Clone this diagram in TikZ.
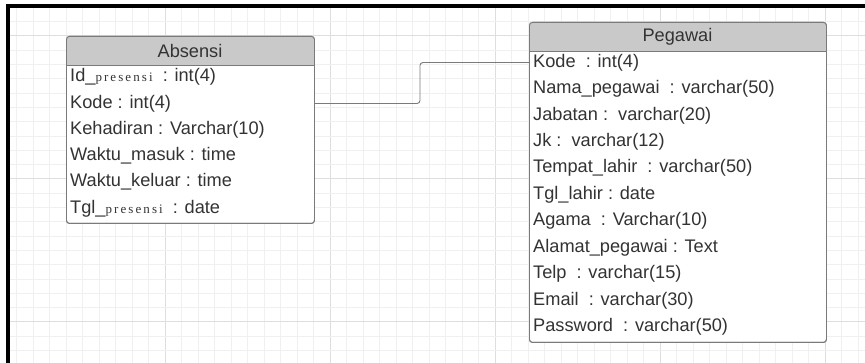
\documentclass[tikz,border=0pt]{standalone}
\usepackage{fontspec}
\setmainfont{Liberation Sans}
\newfontfamily\presfont[LetterSpace=16]{Liberation Serif}
\definecolor{gminor}{HTML}{F0F0F0}
\definecolor{gmajor}{HTML}{DEDEDE}
\definecolor{hdrgray}{HTML}{C9C9C9}
\definecolor{edgegray}{HTML}{7A7A7A}
\definecolor{txtgray}{HTML}{333333}
\newcommand{\pres}{{\presfont\fontsize{13}{15}\selectfont presensi}}
\tikzset{
  minorline/.style={gminor, line width=0.8pt},
  majorline/.style={gmajor, line width=1pt},
  tbl/.style={draw=edgegray, line width=0.9pt, rounded corners=3pt, inner sep=0pt},
  hdrfill/.style={fill=hdrgray},
  hdrtxt/.style={text=txtgray, font=\fontsize{18.2}{20}\selectfont, inner sep=0pt},
  rowtxt/.style={text=txtgray, font=\fontsize{18.2}{20}\selectfont, inner sep=0pt, anchor=west},
  conn/.style={draw=edgegray, line width=0.9pt, rounded corners=3pt},
  frame/.style={black, line width=4pt}
}
\begin{document}
\begin{tikzpicture}[x=1pt, y=-1pt]
\useasboundingbox (0,0) rectangle (865,363);
\fill[white] (0,0) rectangle (865,363);
% grid
\foreach \i in {1,...,52}{
  \pgfmathtruncatemacro{\m}{mod(\i,10)}
  \ifnum\m=0
    \draw[majorline] (\i*16.5,8) -- (\i*16.5,363);
  \else
    \draw[minorline] (\i*16.5,8) -- (\i*16.5,363);
  \fi
}
\foreach \j in {1,...,25}{
  \pgfmathtruncatemacro{\m}{mod(\j-2,10)}
  \ifnum\m=0
    \draw[majorline] (9,7.4+\j*14.3) -- (865,7.4+\j*14.3);
  \else
    \draw[minorline] (9,7.4+\j*14.3) -- (865,7.4+\j*14.3);
  \fi
}
% frame
\draw[frame] (7.5,363) -- (7.5,6.5) -- (865,6.5);

% Absensi table
\node[tbl, fill=white, minimum width=248pt, minimum height=187pt, anchor=north west] (absbox) at (66,36) {};
\fill[hdrfill] (66,65) [rounded corners=3pt] -- (66,36) -- (314,36) [sharp corners] -- (314,65) -- cycle;
\draw[draw=edgegray, line width=0.9pt] (66,65) -- (314,65);
\node[tbl, minimum width=248pt, minimum height=187pt, anchor=north west] (absout) at (66,36) {};
\node[hdrtxt] (abshdr) at (190,50.5) {Absensi};
\node[rowtxt] (a1) at (70,77) {Id\_\pres\ \ : int(4)};
\node[rowtxt] (a2) at (70,103.5) {Kode : int(4)};
\node[rowtxt] (a3) at (70,129.5) {Kehadiran : Varchar(10)};
\node[rowtxt] (a4) at (70,156) {Waktu\_masuk : time};
\node[rowtxt] (a5) at (70,182) {Waktu\_keluar : time};
\node[rowtxt] (a6) at (70,208.5) {Tgl\_\pres\ \ : date};

% Pegawai table
\node[tbl, fill=white, minimum width=297pt, minimum height=320pt, anchor=north west] (pegbox) at (529,22) {};
\fill[hdrfill] (529,51) [rounded corners=3pt] -- (529,22) -- (826,22) [sharp corners] -- (826,51) -- cycle;
\draw[draw=edgegray, line width=0.9pt] (529,51) -- (826,51);
\node[tbl, minimum width=297pt, minimum height=320pt, anchor=north west] (pegout) at (529,22) {};
\node[hdrtxt] (peghdr) at (677.5,36.5) {Pegawai};
\node[rowtxt] (p1) at (533,62.5) {Kode\ \ : int(4)};
\node[rowtxt] (p2) at (533,89) {Nama\_pegawai\ \ : varchar(50)};
\node[rowtxt] (p3) at (533,115.5) {Jabatan :\ \ varchar(20)};
\node[rowtxt] (p4) at (533,142) {Jk :\ \ varchar(12)};
\node[rowtxt] (p5) at (533,168) {Tempat\_lahir\ \ : varchar(50)};
\node[rowtxt] (p6) at (533,194.5) {Tgl\_lahir : date};
\node[rowtxt] (p7) at (533,221) {Agama\ \ : Varchar(10)};
\node[rowtxt] (p8) at (533,247.5) {Alamat\_pegawai : Text};
\node[rowtxt] (p9) at (533,274) {Telp\ \ : varchar(15)};
\node[rowtxt] (p10) at (533,300.5) {Email\ \ : varchar(30)};
\node[rowtxt] (p11) at (533,327) {Password\ \ : varchar(50)};

% connector
\coordinate (bend) at (420,0);
\draw[conn] (a2 -| absout.east) -- (a2 -| bend) |- (p1 -| pegout.west);
\end{tikzpicture}
\end{document}
